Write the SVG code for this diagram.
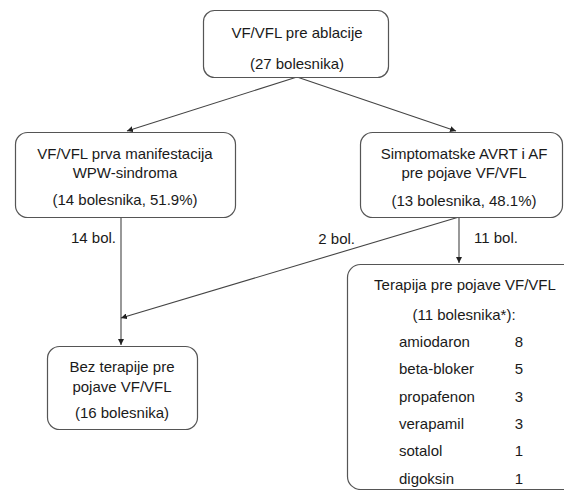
<svg xmlns="http://www.w3.org/2000/svg" width="564" height="490" viewBox="0 0 564 490">
<defs>
<style>
.box{fill:#fff;stroke:#555;stroke-width:1.2}
.t{font-family:"Liberation Sans",Arial,sans-serif;font-size:15px;fill:#1a1a1a;text-anchor:middle}
.l{font-family:"Liberation Sans",Arial,sans-serif;font-size:15px;fill:#1a1a1a}
.c{fill:none;stroke:#444;stroke-width:1.1}
</style>
<marker id="ah" viewBox="0 0 10 10" refX="10" refY="5" markerWidth="6" markerHeight="6" markerUnits="userSpaceOnUse" orient="auto">
<path d="M0,0 L10,5 L0,10 z" fill="#222"/>
</marker>
</defs>
<rect width="564" height="490" fill="#fff"/>
<g id="connectors">
<line class="c" x1="297" y1="77" x2="127" y2="131" marker-end="url(#ah)"/>
<line class="c" x1="297" y1="77" x2="456" y2="131" marker-end="url(#ah)"/>
<line class="c" x1="121" y1="217" x2="121" y2="345" marker-end="url(#ah)"/>
<line class="c" x1="459" y1="217" x2="121" y2="318" marker-end="url(#ah)"/>
<line class="c" x1="459" y1="217" x2="459" y2="263" marker-end="url(#ah)"/>
<text class="l" x="116" y="243" text-anchor="end">14 bol.</text>
<text class="l" x="355" y="244" text-anchor="end">2 bol.</text>
<text class="l" x="474" y="243">11 bol.</text>
</g>
<g id="n-top">
<rect class="box" x="203.5" y="10.5" width="185" height="67" rx="11"/>
<text class="t" x="297" y="37.5">VF/VFL pre ablacije</text>
<text class="t" x="297" y="68.5">(27 bolesnika)</text>
</g>
<g id="n-left">
<rect class="box" x="15.5" y="132.5" width="220" height="85" rx="12"/>
<text class="t" x="125" y="158.5">VF/VFL prva manifestacija</text>
<text class="t" x="125" y="177.5">WPW-sindroma</text>
<text class="t" x="125" y="204.5">(14 bolesnika, 51.9%)</text>
</g>
<g id="n-right">
<rect class="box" x="360.5" y="132.5" width="202" height="85" rx="12"/>
<text class="t" x="464" y="159">Simptomatske AVRT i AF</text>
<text class="t" x="464" y="178">pre pojave VF/VFL</text>
<text class="t" x="464" y="206">(13 bolesnika, 48.1%)</text>
</g>
<g id="n-bez">
<rect class="box" x="47.5" y="346.5" width="150" height="83" rx="12"/>
<text class="t" x="122" y="371.5">Bez terapije pre</text>
<text class="t" x="122" y="391.5">pojave VF/VFL</text>
<text class="t" x="122" y="417.5">(16 bolesnika)</text>
</g>
<g id="n-terapija">
<rect class="box" x="347.5" y="264.5" width="240" height="225" rx="13"/>
<text class="t" x="465" y="289.5">Terapija pre pojave VF/VFL</text>
<text class="t" x="464" y="319.5">(11 bolesnika*):</text>
<text class="l" x="399" y="346.5">amiodaron</text>
<text class="t" x="519" y="346.5">8</text>
<text class="l" x="399" y="373.5">beta-bloker</text>
<text class="t" x="519" y="373.5">5</text>
<text class="l" x="399" y="401.5">propafenon</text>
<text class="t" x="519" y="401.5">3</text>
<text class="l" x="399" y="428.5">verapamil</text>
<text class="t" x="519" y="428.5">3</text>
<text class="l" x="399" y="455.5">sotalol</text>
<text class="t" x="519" y="455.5">1</text>
<text class="l" x="399" y="483.5">digoksin</text>
<text class="t" x="519" y="483.5">1</text>
</g>
</svg>
